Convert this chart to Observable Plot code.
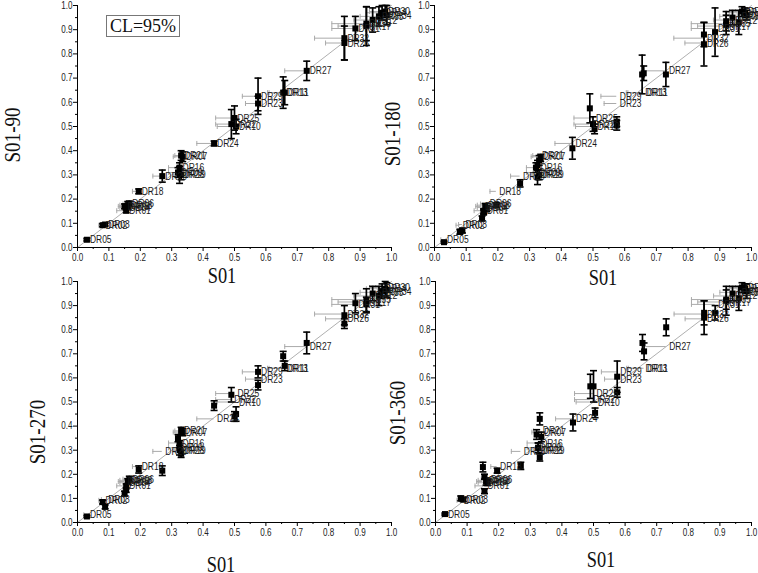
<!DOCTYPE html>
<html><head><meta charset="utf-8">
<script src="https://cdn.jsdelivr.net/npm/d3@7"></script>
<script src="https://cdn.jsdelivr.net/npm/@observablehq/plot@0.6"></script>
<style>
html,body{margin:0;padding:0;background:#fff;}
#chart{position:relative;width:758px;height:573px;overflow:hidden;background:#fff;}
.panel{position:absolute;}
.panel svg{overflow:visible;display:block;}
.title{position:absolute;font-family:"Liberation Serif","Times New Roman",serif;font-size:23px;color:#111;white-space:nowrap;line-height:1;}
.cl{position:absolute;left:106px;top:15px;width:72px;height:20px;border:1px solid #777;font-family:"Liberation Serif","Times New Roman",serif;font-size:18px;line-height:20px;text-align:center;color:#111;background:#fff;}
</style></head><body><div id="chart"></div>
<script>
// ---- data ----
const labels = ["DR01","DR02","DR03","DR04","DR05","DR06","DR07","DR08","DR09","DR10",
  "DR11","DR12","DR13","DR14","DR15","DR16","DR17","DR18","DR19","DR20",
  "DR21","DR22","DR23","DR24","DR25","DR26","DR27","DR28","DR29","DR30",
  "DR31","DR32","DR33","DR34","DR35"];
const s01    = [0.155,0.080,0.088,0.155,0.030,0.165,0.335,0.160,0.320,0.505,
  0.660,0.940,0.655,0.970,0.150,0.325,0.920,0.195,0.330,0.270,
  0.330,0.490,0.575,0.435,0.500,0.850,0.730,0.325,0.575,0.980,
  0.885,0.850,0.960,0.985,0.920];
const s01Err = [0.030,0.012,0.012,0.020,0.010,0.020,0.030,0.025,0.030,0.060,
  0.050,0.060,0.050,0.050,0.020,0.035,0.090,0.020,0.020,0.030,
  0.020,0.050,0.040,0.055,0.060,0.060,0.070,0.020,0.050,0.050,
  0.075,0.095,0.060,0.030,0.110];
const s90    = [0.152,0.092,0.095,0.165,0.032,0.180,0.375,0.175,0.310,0.500,
  0.640,0.940,0.640,0.970,0.170,0.330,0.915,0.232,0.300,0.295,
  0.380,0.510,0.595,0.430,0.535,0.845,0.730,0.300,0.625,0.975,
  0.905,0.865,0.955,0.960,0.925];
const s90Err = [0.008,0.006,0.006,0.010,0.005,0.012,0.020,0.015,0.020,0.030,
  0.050,0.050,0.065,0.030,0.010,0.020,0.080,0.010,0.020,0.025,
  0.020,0.060,0.030,0.010,0.050,0.070,0.040,0.035,0.075,0.025,
  0.050,0.090,0.040,0.040,0.070];
const s180    = [0.145,0.065,0.070,0.150,0.022,0.160,0.370,0.170,0.330,0.490,
  0.720,0.950,0.715,0.975,0.120,0.340,0.920,0.175,0.300,0.265,
  0.360,0.575,0.505,0.410,0.510,0.840,0.715,0.290,0.520,0.970,
  0.890,0.880,0.930,0.960,0.935];
const s180Err = [0.010,0.010,0.010,0.010,0.004,0.012,0.015,0.012,0.020,0.020,
  0.030,0.030,0.080,0.020,0.010,0.020,0.040,0.010,0.020,0.015,
  0.020,0.060,0.020,0.045,0.030,0.090,0.050,0.030,0.020,0.020,
  0.100,0.050,0.050,0.020,0.040];
const s270    = [0.135,0.085,0.065,0.150,0.025,0.180,0.375,0.170,0.350,0.450,
  0.650,0.950,0.690,0.960,0.120,0.325,0.920,0.220,0.285,0.215,
  0.380,0.530,0.570,0.485,0.440,0.825,0.745,0.300,0.625,0.970,
  0.910,0.860,0.940,0.965,0.905];
const s270Err = [0.010,0.008,0.008,0.010,0.004,0.012,0.015,0.012,0.015,0.030,
  0.020,0.030,0.020,0.030,0.010,0.015,0.050,0.015,0.015,0.020,
  0.015,0.030,0.020,0.020,0.020,0.020,0.045,0.020,0.025,0.030,
  0.040,0.040,0.040,0.030,0.030];
const s360    = [0.130,0.100,0.095,0.190,0.035,0.165,0.355,0.170,0.365,0.455,
  0.710,0.950,0.745,0.975,0.230,0.310,0.925,0.215,0.270,0.235,
  0.430,0.565,0.540,0.415,0.565,0.850,0.810,0.310,0.605,0.970,
  0.870,0.870,0.930,0.960,0.920];
const s360Err = [0.010,0.010,0.008,0.010,0.004,0.012,0.020,0.015,0.020,0.020,
  0.035,0.030,0.035,0.020,0.020,0.020,0.040,0.010,0.015,0.015,
  0.025,0.050,0.020,0.035,0.065,0.070,0.035,0.020,0.065,0.020,
  0.030,0.050,0.050,0.030,0.060];
const majorTicks = [0,0.1,0.2,0.3,0.4,0.5,0.6,0.7,0.8,0.9,1.0];
const minorTicks = [0.05,0.15,0.25,0.35,0.45,0.55,0.65,0.75,0.85,0.95];
const diagonal = [0, 1];
const axisOrigin = [0];
const xTitle = "S01";
const panelTitles = ["S01-90","S01-180","S01-270","S01-360"];
const clText = "CL=95%";

// ---- build ----
const vbar = {draw(ctx, size){const r=Math.sqrt(size/Math.PI);ctx.moveTo(0,-r);ctx.lineTo(0,r);}};
const hbar = {draw(ctx, size){const r=Math.sqrt(size/Math.PI);ctx.moveTo(-r,0);ctx.lineTo(r,0);}};

const series = [[s90,s90Err],[s180,s180Err],[s270,s270Err],[s360,s360Err]];
const layout = [
  {left:0,   top:0,   width:400, mL:77, mR:9, mT:5, mB:15, xt:[222,275], yt:[12,135]},
  {left:380, top:0,   width:378, mL:54, mR:7, mT:5, mB:15, xt:[603,277], yt:[392,134]},
  {left:0,   top:275, width:400, mL:77, mR:9, mT:6, mB:15, xt:[221,564], yt:[37,432]},
  {left:380, top:275, width:378, mL:55, mR:7, mT:6, mB:15, xt:[601,559], yt:[397,413]}
];
const chart = document.getElementById("chart");
const fmt = d3.format(".1f");

function narrow(svg, k){
  svg.querySelectorAll("text").forEach(t => {
    const tr = t.getAttribute("transform") || "";
    t.setAttribute("transform", tr + ` scale(${k},1)`);
  });
}

series.forEach(([ys, yErr], p) => {
  const L = layout[p];
  const data = labels.map((label, i) => ({
    label, x: s01[i], xErr: s01Err[i], yRef: s90[i], y: ys[i], yErr: yErr[i]
  }));
  const svg = Plot.plot({
    width: L.width, height: 262,
    marginLeft: L.mL, marginRight: L.mR, marginTop: L.mT, marginBottom: L.mB,
    style: {fontFamily: "'Liberation Sans', Arial, sans-serif", fontSize: "10px", color: "#222", background: "transparent", overflow: "visible"},
    x: {domain: [0, 1]},
    y: {domain: [0, 1]},
    marks: [
      Plot.line(diagonal, {x: d => d, y: d => d, stroke: "#9a9a9a", strokeWidth: 0.8}),
      Plot.ruleY(data, {y: "yRef", x1: d => d.x - d.xErr, x2: "x", stroke: "#aaa", strokeWidth: 1}),
      Plot.dot(data, {x: d => d.x - d.xErr, y: "yRef", symbol: vbar, r: 2.5, stroke: "#aaa", fill: "none", strokeWidth: 1}),
      Plot.ruleX(data, {x: "x", y1: d => d.y - d.yErr, y2: d => d.y + d.yErr, stroke: "#000", strokeWidth: 1.7}),
      Plot.dot(data, {x: "x", y: d => d.y - d.yErr, symbol: hbar, r: 3.5, stroke: "#000", fill: "none", strokeWidth: 1.6}),
      Plot.dot(data, {x: "x", y: d => d.y + d.yErr, symbol: hbar, r: 3.5, stroke: "#000", fill: "none", strokeWidth: 1.6}),
      Plot.dot(data, {x: "x", y: "y", symbol: "square", r: 3.4, fill: "#000", stroke: "none"}),
      Plot.text(data, {x: "x", y: "yRef", text: "label", textAnchor: "start", dx: 3, fontSize: 11, fill: "#1a1a1a"}),
      Plot.ruleX(axisOrigin, {stroke: "#000", strokeWidth: 1}),
      Plot.ruleY(axisOrigin, {stroke: "#000", strokeWidth: 1}),
      Plot.axisX(majorTicks, {tickSize: 4, tickPadding: 2, tickFormat: fmt, label: null, fontSize: 10.5, stroke: "#000"}),
      Plot.axisX(minorTicks, {tickSize: 2, tickFormat: () => "", label: null, stroke: "#000"}),
      Plot.axisY(majorTicks, {tickSize: 4, tickPadding: 1, tickFormat: fmt, label: null, fontSize: 10.5, stroke: "#000"}),
      Plot.axisY(minorTicks, {tickSize: 2, tickFormat: () => "", label: null, stroke: "#000"})
    ]
  });
  narrow(svg, 0.77);
  const div = document.createElement("div");
  div.className = "panel";
  div.style.left = L.left + "px";
  div.style.top = L.top + "px";
  div.appendChild(svg);
  chart.appendChild(div);

  const xt = document.createElement("div");
  xt.className = "title";
  xt.textContent = xTitle;
  xt.style.left = L.xt[0] + "px";
  xt.style.top = L.xt[1] + "px";
  xt.style.transform = "translate(-50%,-50%) scale(0.8,1)";
  chart.appendChild(xt);

  const yt = document.createElement("div");
  yt.className = "title";
  yt.textContent = panelTitles[p];
  yt.style.left = L.yt[0] + "px";
  yt.style.top = L.yt[1] + "px";
  yt.style.transform = "translate(-50%,-50%) rotate(-90deg) scale(0.83,1)";
  chart.appendChild(yt);
});

const cl = document.createElement("div");
cl.className = "cl";
cl.textContent = clText;
chart.appendChild(cl);
</script></body></html>
